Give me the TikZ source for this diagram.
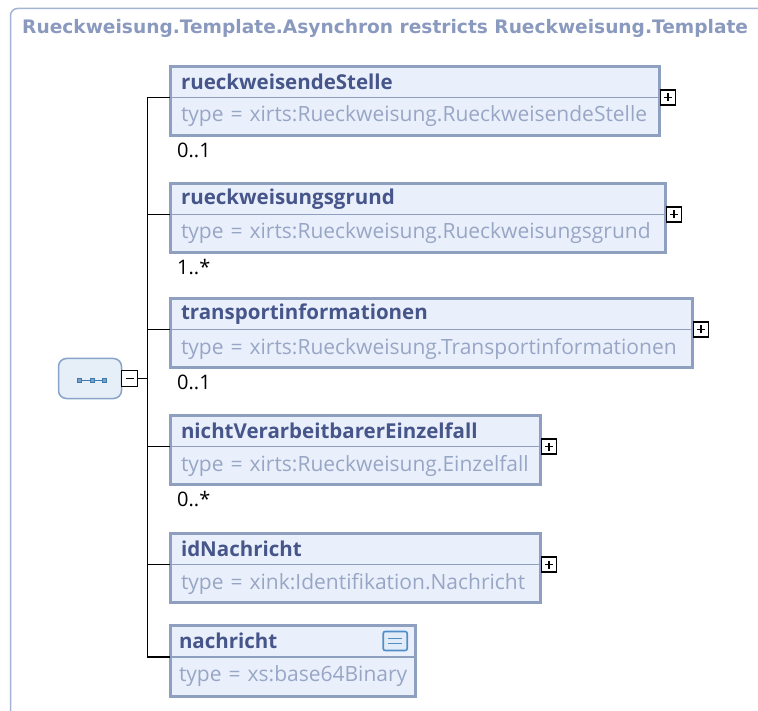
\documentclass[tikz,border=0pt]{standalone}
\usepackage{fontspec}
\setmainfont{Open Sans}
\newfontfamily\titlefont{DejaVu Sans}
\usepackage{tikz}
\usetikzlibrary{positioning}
\usepackage{xcolor}
\definecolor{elemfill}{RGB}{234,240,251}
\definecolor{boxline}{RGB}{143,159,192}
\definecolor{headtext}{RGB}{70,85,138}
\definecolor{typetext}{RGB}{152,166,198}
\definecolor{titletext}{RGB}{138,153,190}
\definecolor{frameline}{RGB}{163,179,211}
\definecolor{seqfill}{RGB}{230,238,248}
\definecolor{seqline}{RGB}{136,164,200}
\definecolor{seqdotc}{RGB}{61,122,176}
\definecolor{iconblue}{RGB}{79,143,200}
\definecolor{iconfill}{RGB}{225,236,248}
\tikzset{
  elemhead/.style={draw=boxline, line width=1.2pt, fill=elemfill, outer sep=0pt,
    inner xsep=11pt, inner ysep=0pt, minimum height=31pt, align=left,
    font=\fontsize{20.5}{22}\selectfont\bfseries, text=headtext},
  elemtype/.style={draw=boxline, line width=1.2pt, fill=elemfill, outer sep=0pt,
    inner xsep=11pt, inner ysep=0pt, minimum height=38pt, align=left,
    font=\fontsize{21}{23}\selectfont, text=typetext},
  elemframe/.style={draw=boxline, line width=3pt},
  plusbox/.style={draw=black, line width=1.8pt, fill=white, minimum size=15pt,
    inner sep=0pt, outer sep=0pt,
    path picture={\draw[line width=1.8pt]
      ([xshift=-4pt]path picture bounding box.center) -- ([xshift=4pt]path picture bounding box.center)
      ([yshift=-4pt]path picture bounding box.center) -- ([yshift=4pt]path picture bounding box.center);}},
  minusbox/.style={draw=black, line width=1.8pt, fill=white, minimum size=16pt,
    inner sep=0pt, outer sep=0pt,
    path picture={\draw[line width=1.8pt]
      ([xshift=-4pt]path picture bounding box.center) -- ([xshift=4pt]path picture bounding box.center);}},
  seqbox/.style={draw=seqline, line width=1.5pt, fill=seqfill, rounded corners=8pt,
    minimum width=63pt, minimum height=40pt, outer sep=0pt},
  seqdot/.style={draw=seqdotc, fill=seqdotc!70, minimum size=4pt, inner sep=0pt, line width=0.6pt},
  docicon/.style={draw=iconblue, line width=1.6pt, fill=iconfill, rounded corners=2pt,
    minimum width=24pt, minimum height=19pt, inner sep=0pt,
    path picture={\draw[iconblue, line width=1.2pt]
      ([xshift=-7pt,yshift=2.5pt]path picture bounding box.center) -- ([xshift=7pt,yshift=2.5pt]path picture bounding box.center)
      ([xshift=-7pt,yshift=-2.5pt]path picture bounding box.center) -- ([xshift=7pt,yshift=-2.5pt]path picture bounding box.center);}},
  card/.style={inner sep=0pt, font=\fontsize{20}{22}\selectfont, text=black},
  conn/.style={draw=black, line width=1.5pt}
}
\begin{document}
\begin{tikzpicture}[x=1pt,y=1pt]
    \useasboundingbox (0,0) rectangle (758,-711);

    % outer frame and heading
    \draw[frameline, line width=1.5pt, rounded corners=7pt] (10.5,-711) -- (10.5,-8.5) -- (758,-8.5);
    \node[anchor=base west, inner sep=0pt, text=titletext, font=\titlefont\fontsize{18.6}{20}\selectfont\bfseries] (title) at (22,-34)
      {Rueckweisung.Template.Asynchron restricts Rueckweisung.Template};

    % sequence
    \node[seqbox] (seq) at (90,-378.5) {};
    \foreach \i in {-1,0,1}
      \node[seqdot] (sd\i) at ([xshift=\i*12.3pt+2pt, yshift=-2pt]seq.center) {};
    \draw[seqdotc, line width=0.8pt] (sd-1) -- (sd0) -- (sd1);
    \node[minusbox, right=0pt of seq] (minus) {};
    \coordinate[right=10pt of minus] (spine);

    % elements
    \node[elemhead, text width=467pt, anchor=north west] (b1h) at (170,-66.5) {rueckweisendeStelle};
    \node[elemtype, text width=467pt, below=0pt of b1h] (b1b) {type = xirts:Rueckweisung.RueckweisendeStelle};
    \draw[elemframe] (b1h.north west) rectangle (b1b.south east);
    \node[plusbox, right=1.5pt of b1h.south east] (b1p) {};
    \node[card, below right=7pt and 7pt of b1b.south west, anchor=north west] (c1) {0..1};

    \node[elemhead, text width=473pt, anchor=north west] (b2h) at (170,-183.5) {rueckweisungsgrund};
    \node[elemtype, text width=473pt, below=0pt of b2h] (b2b) {type = xirts:Rueckweisung.Rueckweisungsgrund};
    \draw[elemframe] (b2h.north west) rectangle (b2b.south east);
    \node[plusbox, right=1.5pt of b2h.south east] (b2p) {};
    \node[card, below right=7pt and 7pt of b2b.south west, anchor=north west] (c2) {1..*};

    \node[elemhead, text width=500pt, anchor=north west] (b3h) at (170,-298.5) {transportinformationen};
    \node[elemtype, text width=500pt, below=0pt of b3h] (b3b) {type = xirts:Rueckweisung.Transportinformationen};
    \draw[elemframe] (b3h.north west) rectangle (b3b.south east);
    \node[plusbox, right=1.5pt of b3h.south east] (b3p) {};
    \node[card, below right=7pt and 7pt of b3b.south west, anchor=north west] (c3) {0..1};

    \node[elemhead, text width=348pt, anchor=north west] (b4h) at (170,-415.5) {nichtVerarbeitbarerEinzelfall};
    \node[elemtype, text width=348pt, below=0pt of b4h] (b4b) {type = xirts:Rueckweisung.Einzelfall};
    \draw[elemframe] (b4h.north west) rectangle (b4b.south east);
    \node[plusbox, right=1.5pt of b4h.south east] (b4p) {};
    \node[card, below right=7pt and 7pt of b4b.south west, anchor=north west] (c4) {0..*};

    \node[elemhead, text width=348pt, anchor=north west] (b5h) at (170,-533.5) {idNachricht};
    \node[elemtype, text width=348pt, below=0pt of b5h] (b5b) {type = xink:Identifikation.Nachricht};
    \draw[elemframe] (b5h.north west) rectangle (b5b.south east);
    \node[plusbox, right=1.5pt of b5h.south east] (b5p) {};

    \node[elemhead, text width=227pt, inner xsep=9pt, minimum height=32pt, anchor=north west] (b6h) at (170,-625) {nachricht};
    \node[elemtype, text width=227pt, inner xsep=9pt, minimum height=39pt, below=0pt of b6h] (b6b) {\mbox{type = xs:base64Binary}};
    \draw[elemframe] (b6h.north west) rectangle (b6b.south east);
    \node[docicon, left=7pt of b6h.east] (b6i) {};

    % connectors
    \draw[conn] (minus.east) -- (spine);
    \foreach \b in {b1h,b2h,b3h,b4h,b5h,b6h}
      \draw[conn] (spine) |- (\b.south west);

\end{tikzpicture}
\end{document}
